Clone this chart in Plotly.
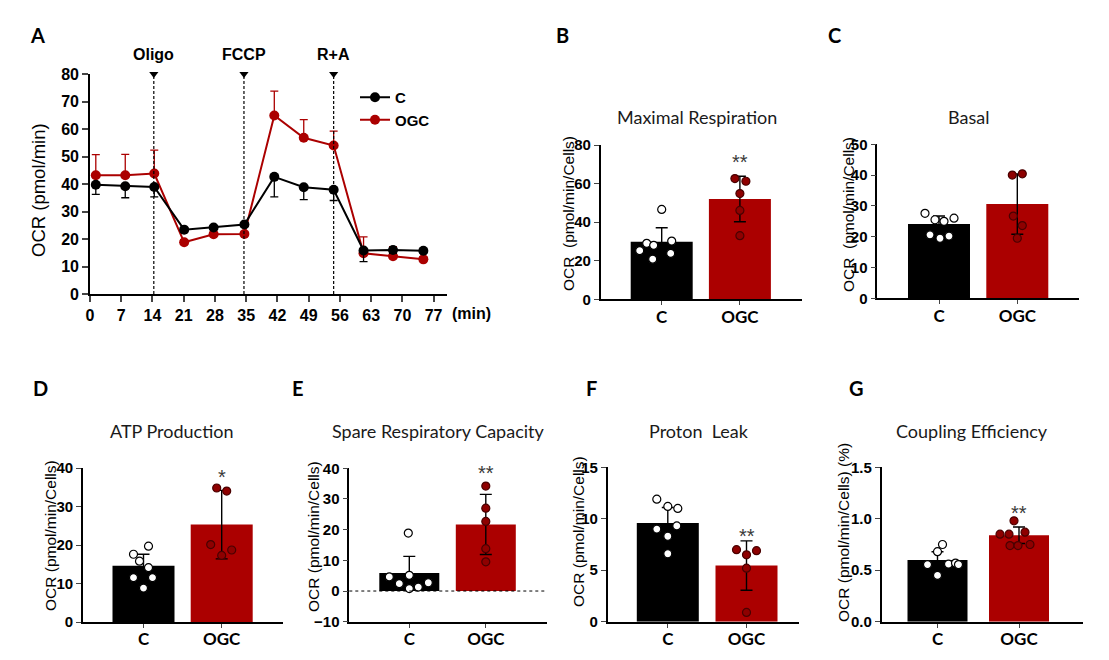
import plotly.graph_objects as go

W, H = 1109, 660
OFF = 8  # page body margin in the browser

# ---------------- Panel A : OCR time course ----------------
time_min = [1.3, 7.9, 14.4, 21.1, 27.7, 34.6, 41.3, 47.9, 54.6, 61.3, 67.9, 74.7]
ocr_c = [39.7, 39.2, 38.9, 23.4, 24.2, 25.3, 42.6, 38.8, 37.9, 15.8, 16.0, 15.7]
ocr_c_sd = [3.5, 4.2, 3.6, 1.0, 0.8, 0.8, 7.3, 4.5, 3.9, 4.0, 1.2, 0.8]
ocr_ogc = [43.2, 43.2, 43.8, 18.8, 21.7, 21.8, 64.9, 56.8, 54.0, 14.8, 13.7, 12.6]
ocr_ogc_sd = [7.5, 7.6, 8.5, 1.0, 0.8, 0.8, 8.9, 6.6, 5.2, 6.0, 3.5, 1.0]
inj_time = [14.3, 34.5, 54.6]
inj_label = ["Oligo", "FCCP", "R+A"]
a_xticks = [0, 7, 14, 21, 28, 35, 42, 49, 56, 63, 70, 77]
a_yticks = [0, 10, 20, 30, 40, 50, 60, 70, 80]

# ---------------- Bar panels B-G ----------------
groups = ["C", "OGC"]

maxresp_mean = [29.9, 52.0]
maxresp_sd = [7.2, 11.8]
maxresp_c = [46.6, 29.0, 30.2, 28.0, 25.2, 23.8, 20.8]
maxresp_ogc = [62.6, 61.2, 54.8, 46.1, 33.0]

basal_mean = [24.1, 30.6]
basal_sd = [2.6, 9.8]
basal_c = [27.6, 25.5, 25.0, 26.0, 20.6, 19.5, 20.2]
basal_ogc = [40.0, 40.4, 26.7, 23.6, 19.5]

atp_mean = [14.6, 25.3]
atp_sd = [3.0, 8.9]
atp_c = [19.7, 17.6, 15.8, 14.1, 11.5, 11.5, 8.8]
atp_ogc = [34.8, 34.0, 20.1, 18.7, 17.3]

spare_mean = [5.9, 21.7]
spare_sd = [5.4, 9.8]
spare_c = [18.9, 4.6, 5.1, 2.4, 2.7, 1.3, 0.8]
spare_ogc = [34.2, 27.0, 22.7, 13.8, 9.5]

leak_mean = [9.6, 5.45]
leak_sd = [1.5, 2.4]
leak_c = [11.9, 11.2, 11.0, 9.0, 9.3, 8.3, 6.6]
leak_ogc = [7.0, 6.9, 6.5, 5.2, 0.9]

coupling_mean = [0.60, 0.84]
coupling_sd = [0.08, 0.08]
coupling_c = [0.75, 0.68, 0.555, 0.56, 0.57, 0.555, 0.45]
coupling_ogc = [0.98, 0.85, 0.85, 0.87, 0.74, 0.74, 0.75]

# ---------------- styling ----------------
RED = "#ab0000"
DOT_RED = "#8e0000"
NUM_FONT = "Liberation Sans"
TXT_FONT = "Lato"


def px_x(p):
    return (p - OFF) / W


def px_y(p):
    return 1 - (p - OFF) / H


def paper_text(text, x, y, size, family, color="black", angle=0, xanchor="center"):
    return dict(text=text, xref="paper", yref="paper", x=px_x(x), y=px_y(y),
                xanchor=xanchor, yanchor="middle", textangle=angle, showarrow=False,
                font=dict(family=family, size=size, color=color))


fig = go.Figure()
annotations = []
shapes = []

# ---------- Panel A ----------
fig.add_trace(go.Scatter(
    x=time_min, y=ocr_ogc, mode="lines+markers", name="OGC", legendrank=2,
    line=dict(color=RED, width=2), marker=dict(size=10, color=RED),
    error_y=dict(type="data", symmetric=False, array=ocr_ogc_sd,
                 arrayminus=[0] * len(ocr_ogc_sd), color=RED, thickness=1.3, width=4),
    xaxis="x", yaxis="y", cliponaxis=False))
fig.add_trace(go.Scatter(
    x=time_min, y=ocr_c, mode="lines+markers", name="C", legendrank=1,
    line=dict(color="black", width=2), marker=dict(size=10, color="black"),
    error_y=dict(type="data", symmetric=False, array=[0] * len(ocr_c_sd),
                 arrayminus=ocr_c_sd, color="black", thickness=1.3, width=4),
    xaxis="x", yaxis="y", cliponaxis=False))
fig.add_trace(go.Scatter(
    x=inj_time, y=[a_yticks[-1]] * len(inj_time), mode="markers", showlegend=False,
    marker=dict(symbol="triangle-down", size=8, color="black"),
    xaxis="x", yaxis="y", cliponaxis=False, hoverinfo="skip"))
for t, lab in zip(inj_time, inj_label):
    shapes.append(dict(type="line", xref="x", yref="y", x0=t, x1=t,
                       y0=a_yticks[0], y1=a_yticks[-1],
                       line=dict(color="black", width=1.2, dash="3px,2px")))
    annotations.append(dict(text=f"<b>{lab}</b>", xref="x", yref="paper", x=t, y=px_y(54),
                            showarrow=False, xanchor="center", yanchor="middle",
                            font=dict(family=NUM_FONT, size=16, color="black")))

A_BOX = (90, 447, 74, 294)  # left, right, top, bottom (px)
layout_axes = {}
layout_axes["xaxis"] = dict(
    domain=[px_x(A_BOX[0]), px_x(A_BOX[1])], range=[0, 80], anchor="y", automargin=False,
    tickvals=a_xticks, ticks="outside", ticklen=6, tickwidth=1.5,
    showline=True, linecolor="black", linewidth=1.6, showgrid=False, zeroline=False,
    tickfont=dict(family=NUM_FONT, size=16, color="black", weight="bold"))
layout_axes["yaxis"] = dict(
    domain=[px_y(A_BOX[3]), px_y(A_BOX[2])], range=[0, 80], anchor="x", automargin=False,
    tickvals=a_yticks, ticks="outside", ticklen=6, tickwidth=1.5,
    showline=True, linecolor="black", linewidth=1.6, showgrid=False, zeroline=False,
    tickfont=dict(family=NUM_FONT, size=16, color="black", weight="bold"))
annotations.append(paper_text("OCR (pmol/min)", 38, 190, 18.5, NUM_FONT, angle=-90))
annotations.append(paper_text("<b>(min)</b>", 450, 313, 16, NUM_FONT, xanchor="left"))
annotations.append(paper_text("<b>A</b>", 37, 35, 20, TXT_FONT))

# ---------- bar panels ----------
panels = [
    dict(letter="B", title="Maximal Respiration", mean=maxresp_mean, sd=maxresp_sd,
         c=maxresp_c, ogc=maxresp_ogc, yticks=[0, 20, 40, 60, 80], yr=[0, 80],
         star="**", star_y=71.0, ylabel="OCR  (pmol/min/Cells)"),
    dict(letter="C", title="Basal", mean=basal_mean, sd=basal_sd,
         c=basal_c, ogc=basal_ogc, yticks=[0, 10, 20, 30, 40, 50], yr=[0, 50],
         star="", star_y=0, ylabel="OCR  (pmol/min/Cells)"),
    dict(letter="D", title="ATP Production", mean=atp_mean, sd=atp_sd,
         c=atp_c, ogc=atp_ogc, yticks=[0, 10, 20, 30, 40], yr=[0, 40],
         star="*", star_y=37.6, ylabel="OCR (pmol/min/Cells)"),
    dict(letter="E", title="Spare Respiratory Capacity", mean=spare_mean, sd=spare_sd,
         c=spare_c, ogc=spare_ogc, yticks=[-10, 0, 10, 20, 30, 40], yr=[-10, 40],
         star="**", star_y=38.6, ylabel="OCR (pmol/min/Cells)"),
    dict(letter="F", title="Proton  Leak", mean=leak_mean, sd=leak_sd,
         c=leak_c, ogc=leak_ogc, yticks=[0, 5, 10, 15], yr=[0, 15],
         star="**", star_y=8.3, ylabel="OCR (pmol/min/Cells)"),
    dict(letter="G", title="Coupling Efficiency", mean=coupling_mean, sd=coupling_sd,
         c=coupling_c, ogc=coupling_ogc, yticks=[0, 0.5, 1.0, 1.5], yr=[0, 1.5],
         star="**", star_y=1.06, ylabel="OCR (pmol/min/Cells) (%)"),
]

# geometry (pixels): axis box, bar centres, bar width, label positions
geom = {
    "B": dict(box=(600.7, 802, 145, 299.3), cen=(661.7, 739.9), bw=62,
              ylab=(568, 214), title=(697, 117), let=(562, 35),
              jc=[0, -15, 10, -8, -22, 9, -9], jo=[-5, 6, 0, 0, 0]),
    "C": dict(box=(877.3, 1079, 144.3, 298.3), cen=(939, 1017.3), bw=62,
              ylab=(848, 215), title=(968, 117), let=(834, 35),
              jc=[-14, -4, 5, 15, -9, 1, 10], jo=[-5, 5, -4, 5, 0]),
    "D": dict(box=(83, 283, 468, 622), cen=(143.5, 221.7), bw=62,
              ylab=(50, 536), title=(172, 431), let=(40, 388),
              jc=[5, -10, -4, 5, -10, 9, 0], jo=[-5, 5, -11, 10, 0]),
    "E": dict(box=(349.3, 546.7, 468.3, 621.7), cen=(409.3, 485.8), bw=60,
              ylab=(313, 537), title=(438, 431), let=(298, 388),
              jc=[-1, -20, 0, -10, 19, 9, 0], jo=[0, 0, 0, 0, 0]),
    "F": dict(box=(607.7, 799, 467.3, 621.7), cen=(667.8, 746.5), bw=62,
              ylab=(578, 532), title=(699, 431), let=(591, 388),
              jc=[-11, 0, 10, -11, 9, 0, 0], jo=[-10, 10, 0, 0, 0]),
    "G": dict(box=(881.7, 1082.7, 467.3, 621.7), cen=(937.5, 1019), bw=60,
              ylab=(843, 533), title=(972, 431), let=(856, 388),
              jc=[5, 0, -10, 11, 18, 21, 0], jo=[-5, -19, -10, 6, -9, -1, 11]),
}

for i, p in enumerate(panels, start=2):
    g = geom[p["letter"]]
    l, r, top, bot = g["box"]
    cc, oc = g["cen"]
    sp = oc - cc
    xa, ya = f"x{i}", f"y{i}"
    layout_axes[f"xaxis{i}"] = dict(
        domain=[px_x(l), px_x(r)], range=[(l - cc) / sp, (r - cc) / sp], anchor=ya,
        automargin=False, ticklabelstandoff=-3,
        tickvals=[0, 1], ticktext=groups, ticks="outside", ticklen=4, tickwidth=1.4,
        showline=True, linecolor="black", linewidth=1.6, showgrid=False, zeroline=False,
        tickfont=dict(family=TXT_FONT, size=17, color="black", weight="bold"))
    layout_axes[f"yaxis{i}"] = dict(
        domain=[px_y(bot), px_y(top)], range=p["yr"], anchor=xa, automargin=False,
        tickvals=p["yticks"], ticks="outside", ticklen=5, tickwidth=1.4,
        tickformat=".1f" if p["letter"] == "G" else "d",
        showline=True, linecolor="black", linewidth=1.6, showgrid=False, zeroline=False,
        tickfont=dict(family=NUM_FONT, size=15, color="black", weight="bold"))

    fig.add_trace(go.Bar(
        x=[0, 1], y=p["mean"], width=g["bw"] / sp,
        marker=dict(color=["black", RED], line=dict(width=0)),
        error_y=dict(type="data", array=p["sd"], color="black", thickness=1.4, width=6),
        xaxis=xa, yaxis=ya, showlegend=False, hoverinfo="skip"))
    fig.add_trace(go.Scatter(
        x=[0 + j / sp for j in g["jc"]], y=p["c"], mode="markers", showlegend=False,
        marker=dict(size=8, color="white", line=dict(color="black", width=1.2)),
        xaxis=xa, yaxis=ya, cliponaxis=False, hoverinfo="skip"))
    fig.add_trace(go.Scatter(
        x=[1 + j / sp for j in g["jo"]], y=p["ogc"], mode="markers", showlegend=False,
        marker=dict(size=8, color=DOT_RED, line=dict(color="#4a0000", width=1.2)),
        xaxis=xa, yaxis=ya, cliponaxis=False, hoverinfo="skip"))

    if p["star"]:
        annotations.append(dict(text=p["star"], xref=xa, yref=ya, x=1, y=p["star_y"],
                                showarrow=False, xanchor="center", yanchor="middle",
                                font=dict(family=NUM_FONT, size=20, color="#3a3a3a")))
    annotations.append(paper_text(p["title"], g["title"][0], g["title"][1], 18, TXT_FONT,
                                  color="#1a1a1a"))
    annotations.append(paper_text(p["ylabel"], g["ylab"][0], g["ylab"][1], 15.5, NUM_FONT,
                                  angle=-90))
    annotations.append(paper_text(f"<b>{p['letter']}</b>", g["let"][0], g["let"][1], 20,
                                  TXT_FONT))
    if p["yr"][0] < 0:
        shapes.append(dict(type="line", xref=f"{xa} domain", yref=ya, x0=0, x1=1, y0=0, y1=0,
                           line=dict(color="black", width=1, dash="dot")))

fig.update_layout(
    width=W, height=H, margin=dict(l=0, r=0, t=0, b=0, pad=0, autoexpand=False),
    paper_bgcolor="white", plot_bgcolor="white",
    showlegend=True,
    legend=dict(x=px_x(355), y=px_y(81), xanchor="left", yanchor="top",
                bgcolor="rgba(0,0,0,0)", itemwidth=30, tracegroupgap=0,
                font=dict(family=NUM_FONT, size=15, color="black", weight="bold")),
    annotations=annotations, shapes=shapes,
    **layout_axes)

fig.write_html("out.html")
